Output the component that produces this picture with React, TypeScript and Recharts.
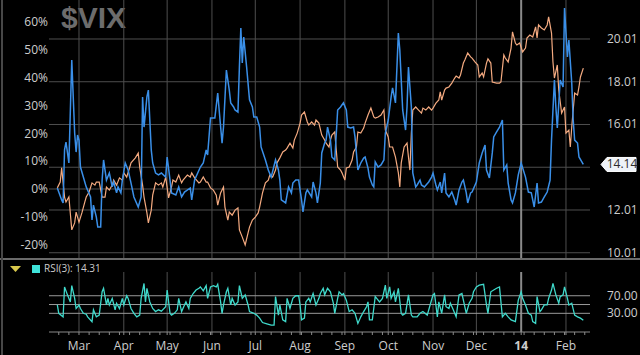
import React from "react";
import { ComposedChart, LineChart, Line, XAxis, YAxis, ReferenceLine } from "recharts";

// x values are calendar days counted from 1 Mar 2013
const monthStarts = [0, 31, 61, 92, 122, 153, 184, 214, 245, 275, 306, 337];
const monthLabels = ["Mar", "Apr", "May", "Jun", "Jul", "Aug", "Sep", "Oct", "Nov", "Dec", "14", "Feb"];
const weekTicks = Array.from({ length: 53 }, (_, i) => -14 + 7 * i);

const pctTicks = [-20, -10, 0, 10, 20, 30, 40, 50, 60];
const vixTicks = [10.01, 12.01, 14.01, 16.01, 18.01, 20.01, 22.01];
const rsiTicks = [30, 70];
const rsiLevels = [30, 50, 70];
const lastVix = 14.14;
const lastRsi = 14.31;

const vixDays = [
  -15, -12, -11, -10, -9, -7, -5, -3, -2, -1, 0, 1, 3, 5, 8, 9, 10, 12, 13, 15, 16, 17, 19, 21, 23, 24, 26, 27, 29, 30,
  32, 34, 36, 38, 41, 43, 44, 45, 47, 48, 50, 51, 53, 55, 57, 60, 61, 63, 64, 67, 69, 71, 73, 77, 78, 80, 84, 86, 88, 89,
  91, 94, 96, 97, 99, 100, 102, 104, 105, 107, 108, 110, 111, 112, 113, 114, 116, 118, 120, 121, 123, 125, 126, 129, 131,
  133, 136, 138, 139, 140, 143, 145, 147, 148, 150, 152, 154, 155, 157, 158, 161, 162, 164, 165, 167, 168, 170, 171, 172,
  174, 175, 177, 179, 181, 183, 185, 186, 188, 190, 191, 193, 195, 197, 198, 200, 201, 203, 204, 205, 207, 209, 211, 212,
  214, 216, 217, 219, 221, 222, 224, 226, 227, 228, 230, 231, 233, 234, 236, 237, 239, 242, 244, 245, 247, 248, 250, 251,
  253, 254, 256, 258, 260, 261, 263, 265, 266, 268, 269, 271, 272, 275, 277, 279, 281, 282, 284, 286, 287, 289, 291, 293,
  294, 296, 297, 299, 300, 302, 304, 306, 309, 311, 313, 315, 317, 318, 320, 322, 324, 326, 327, 329, 330, 331, 333, 335,
  336, 338, 339, 341, 342, 343, 345, 346, 349,
];
const vixClose = [
  13.04, 12.48, 12.34, 14.82, 15.19, 14.21, 19.03, 15.61, 14.72, 15.52, 15.28, 14.02, 13.55, 13.09, 12.62, 11.54, 12.24,
  11.68, 11.21, 11.21, 13.41, 14.35, 13.41, 13.74, 13.09, 13.32, 12.81, 13.09, 12.81, 13.41, 14.21, 13.88, 13.27, 12.62,
  12.15, 12.62, 17.3, 15.89, 17.3, 17.62, 14.82, 14.21, 13.74, 13.65, 13.74, 13.55, 14.49, 13.41, 12.81, 12.71, 13.09,
  12.62, 12.85, 13.04, 12.48, 13.41, 14.02, 14.21, 14.82, 14.58, 16.31, 16.31, 17.48, 16.69, 15.14, 15.89, 18.56, 17.62,
  17.02, 16.83, 16.69, 16.59, 18.7, 20.52, 18.89, 20.1, 18.7, 17.16, 16.83, 16.36, 16.36, 15.89, 14.96, 14.35, 13.88,
  13.55, 14.35, 13.88, 13.41, 12.48, 12.34, 13.09, 12.81, 13.27, 13.41, 13.41, 12.48, 11.92, 12.81, 12.95, 12.62, 13.32,
  12.81, 12.34, 13.27, 14.68, 15.14, 15.28, 15.89, 15.28, 14.49, 14.35, 16.69, 16.83, 17.02, 16.69, 15.89, 15.85, 15.89,
  15.43, 13.88, 14.21, 14.44, 14.49, 13.97, 13.55, 13.18, 13.09, 14.26, 14.02, 14.12, 14.35, 15.61, 16.22, 17.3, 17.72,
  17.02, 20.29, 19.5, 16.69, 15.75, 16.83, 18.7, 16.83, 13.74, 13.09, 13.18, 13.41, 13.18, 13.09, 13.32, 13.55, 13.74,
  13.18, 12.95, 13.32, 12.81, 13.74, 12.81, 12.62, 12.85, 12.48, 12.24, 12.95, 13.32, 13.41, 12.81, 12.34, 12.81, 12.85,
  13.32, 14.21, 14.68, 15.05, 13.88, 13.51, 14.68, 15.43, 15.66, 15.89, 16.22, 13.88, 14.12, 13.27, 12.48, 12.34, 12.81,
  13.65, 14.21, 13.55, 12.85, 12.81, 12.15, 13.27, 12.34, 12.38, 12.62, 12.85, 13.41, 15.28, 18.09, 16.83, 15.85, 18.09,
  17.76, 21.46, 19.17, 19.96, 17.95, 16.22, 15.28, 15.14, 14.49, 14.14,
];

const pctDays = [
  -15, -13, -12, -10, -9, -7, -5, -3, -2, 0, 2, 4, 5, 7, 9, 11, 12, 14, 16, 18, 19, 21, 23, 24, 26, 28, 30, 31, 33, 35, 36,
  39, 41, 42, 44, 45, 47, 48, 50, 51, 53, 55, 57, 58, 60, 62, 64, 65, 67, 69, 71, 72, 75, 77, 78, 80, 83, 84, 86, 88, 89,
  91, 93, 95, 96, 98, 100, 101, 103, 104, 106, 108, 110, 111, 113, 115, 117, 118, 120, 122, 124, 125, 127, 129, 131, 132,
  134, 136, 137, 139, 141, 143, 144, 146, 148, 149, 151, 153, 154, 156, 158, 159, 161, 163, 164, 166, 168, 170, 171, 173,
  174, 175, 177, 179, 181, 182, 184, 185, 187, 189, 190, 192, 193, 195, 197, 198, 200, 202, 204, 205, 207, 209, 211, 212,
  214, 215, 217, 219, 221, 222, 223, 225, 227, 228, 229, 230, 231, 233, 235, 237, 238, 240, 242, 244, 245, 247, 249, 250,
  251, 253, 254, 256, 258, 260, 261, 263, 264, 266, 267, 269, 271, 272, 274, 276, 277, 279, 280, 282, 283, 285, 286, 289,
  291, 292, 294, 295, 297, 299, 300, 302, 303, 305, 307, 309, 310, 312, 314, 316, 317, 318, 320, 322, 324, 325, 327, 328,
  329, 331, 332, 334, 336, 337, 339, 340, 341, 342, 343, 345, 346, 347, 349,
];
const pctChange = [
  0.4, 2.5, 7.6, -2.9, -4.7, -2.9, -14.7, -12.2, -8.3, -11.9, -8.6, -4.7, -2.9, -1.1, 2.2, 1.4, 2.5, 2.5, -2.9, -2.9, 0.7,
  -0.4, 1.4, 3.2, 1.4, 4.0, 3.2, 5.8, 4.3, 7.6, 9.4, 11.2, 12.9, 7.9, 1.4, -2.9, -8.6, -12.2, -7.6, -2.2, 2.2, 1.4, 2.2,
  0.7, 4.3, -3.2, 0.7, 3.2, 2.5, 5.0, 2.2, 3.2, 5.0, 4.3, 5.8, 4.0, 2.2, 2.5, 4.3, 2.5, 2.5, 0.4, -0.4, -2.2, -5.8, -1.4,
  0.7, -6.5, -11.2, -8.3, -9.4, -7.6, -6.8, -14.7, -17.3, -20.1, -15.8, -13.7, -11.2, -10.1, -8.6, -6.5, -1.4, 2.2, 3.2,
  5.0, 4.3, 6.8, 9.4, 11.2, 13.3, 14.0, 14.7, 16.5, 14.7, 17.6, 20.1, 23.7, 26.6, 27.7, 24.1, 23.0, 24.1, 23.0, 24.8, 23.7,
  19.4, 17.6, 16.5, 15.1, 17.6, 19.4, 20.5, 7.9, 6.8, 5.8, 3.2, 7.6, 7.9, 10.4, 13.3, 15.1, 20.5, 20.1, 21.9, 23.7, 26.6,
  29.1, 25.9, 25.5, 25.9, 26.6, 28.4, 21.2, 18.7, 15.1, 15.1, 11.5, 5.8, 0.7, 9.4, 15.1, 16.5, 11.5, 6.8, 20.1, 28.4,
  29.5, 28.4, 27.3, 29.1, 28.4, 29.5, 28.4, 29.1, 30.9, 32.0, 34.9, 32.0, 35.6, 36.3, 36.7, 38.1, 39.9, 40.6, 39.9, 41.0,
  45.3, 46.4, 48.9, 47.5, 47.1, 45.7, 44.6, 40.3, 41.7, 40.3, 45.3, 46.8, 45.3, 38.5, 38.1, 38.1, 38.5, 48.2, 47.1, 45.7,
  50.7, 56.5, 52.5, 51.8, 52.5, 49.3, 50.7, 54.3, 55.4, 54.7, 58.3, 54.3, 59.0, 57.9, 57.2, 59.0, 61.9, 56.1, 45.7, 39.9,
  44.6, 35.6, 27.3, 29.5, 20.1, 21.2, 15.1, 22.3, 28.4, 34.5, 33.8, 36.7, 40.3, 43.5,
];

const rsiDays = [
  -15, -14, -11, -10, -8, -6, -5, -3, -2, 0, 1, 3, 5, 6, 9, 10, 12, 14, 16, 17, 19, 20, 21, 23, 25, 26, 28, 30, 31, 33, 34,
  36, 38, 40, 42, 43, 45, 46, 47, 49, 51, 53, 55, 57, 60, 61, 63, 64, 66, 68, 69, 71, 73, 74, 76, 77, 79, 81, 83, 84, 86,
  88, 89, 91, 93, 95, 96, 98, 99, 100, 102, 103, 105, 106, 108, 110, 111, 113, 115, 117, 118, 121, 123, 125, 127, 130,
  133, 135, 136, 138, 139, 141, 143, 144, 146, 148, 150, 152, 153, 154, 156, 157, 159, 160, 162, 164, 166, 167, 169, 170,
  172, 174, 176, 177, 179, 180, 182, 183, 185, 187, 189, 191, 193, 195, 197, 199, 200, 201, 203, 205, 206, 208, 210, 212,
  213, 215, 216, 218, 219, 221, 223, 224, 226, 228, 230, 231, 234, 236, 238, 241, 243, 245, 246, 248, 249, 251, 253, 254,
  256, 257, 259, 261, 263, 265, 266, 268, 270, 272, 273, 275, 277, 280, 282, 283, 285, 287, 289, 291, 293, 295, 297, 299,
  302, 304, 306, 307, 309, 311, 313, 314, 316, 317, 319, 320, 322, 324, 325, 327, 328, 330, 332, 333, 335, 336, 338, 339,
  341, 343, 345, 347, 349,
];
const rsiValues = [
  49, 30, 22, 90, 72, 56, 93, 64, 41, 49, 41, 30, 28, 22, 11, 38, 22, 26, 79, 87, 49, 64, 49, 64, 38, 53, 41, 64, 49, 70,
  64, 41, 30, 22, 26, 64, 98, 56, 87, 56, 41, 34, 38, 35, 45, 83, 30, 26, 30, 38, 64, 34, 49, 56, 41, 64, 75, 83, 87, 90,
  81, 93, 64, 90, 93, 90, 96, 56, 30, 49, 79, 87, 49, 64, 49, 56, 93, 64, 72, 49, 34, 30, 26, 19, 9, 6, 3, 3, 68, 26, 49,
  15, 11, 64, 41, 64, 70, 70, 49, 15, 19, 56, 64, 56, 75, 49, 64, 75, 87, 72, 87, 79, 53, 30, 64, 79, 72, 75, 60, 34, 38,
  30, 7, 22, 34, 45, 56, 15, 15, 68, 64, 56, 64, 94, 64, 90, 64, 79, 56, 87, 30, 26, 30, 72, 26, 22, 22, 30, 34, 26, 49,
  72, 75, 22, 56, 30, 72, 45, 41, 53, 38, 22, 72, 75, 60, 30, 53, 64, 79, 90, 94, 96, 49, 30, 79, 83, 87, 90, 22, 30, 22,
  15, 11, 60, 79, 64, 49, 30, 26, 11, 7, 68, 34, 38, 49, 49, 64, 83, 98, 72, 53, 68, 72, 90, 64, 49, 53, 26, 22, 19, 14.31,
];

const vixData = vixDays.map((d, i) => ({ d, v: vixClose[i] }));
const pctData = pctDays.map((d, i) => ({ d, p: pctChange[i] }));
const rsiData = rsiDays.map((d, i) => ({ d, r: rsiValues[i] }));
const axisTicks = Array.from(new Set([...weekTicks, ...monthStarts])).sort((a, b) => a - b);

const X_DOMAIN: [number, number] = [-20.76, 353.63];
const FONT = "'Open Sans', 'Liberation Sans', sans-serif";
const TEXT = "#cdcdcd";
const GRID = "#4e4e4e";
const YEAR_LINE = "#8a8a8a";

function VixTick({ x, y, payload }: any) {
  if (payload.value === 14.01) return null;
  return (
    <text x={x} y={y} dy={4} fill={TEXT} fontSize={12} fontFamily={FONT} textAnchor="start">
      {payload.value.toFixed(2)}
    </text>
  );
}

function RsiTick({ x, y, payload }: any) {
  return (
    <text x={x} y={y} dy={4} fill={TEXT} fontSize={12} fontFamily={FONT} textAnchor="start">
      {payload.value.toFixed(2)}
    </text>
  );
}

function MonthTick({ x, y, payload }: any) {
  const idx = monthStarts.indexOf(payload.value);
  if (idx < 0) return null;
  const label = monthLabels[idx];
  return (
    <text
      x={x}
      y={y + 13}
      fill={TEXT}
      fontSize={12}
      fontFamily={FONT}
      fontWeight={label === "14" ? 700 : 400}
      textAnchor="middle"
    >
      {label}
    </text>
  );
}

function PriceTag({ viewBox }: any) {
  if (!viewBox) return null;
  const x0 = viewBox.x + viewBox.width + 11;
  const y0 = viewBox.y;
  const path = `M${x0},${y0} L${x0 + 6},${y0 - 7} L${x0 + 35},${y0 - 7} L${x0 + 35},${y0 + 7} L${x0 + 6},${y0 + 7} Z`;
  return (
    <g>
      <path d={path} fill="#eef2f8" stroke="#ffffff" strokeWidth={1} />
      <text x={x0 + 21} y={y0 + 4} fill="#2b2b2b" fontSize={12} fontFamily={FONT} textAnchor="middle">
        {lastVix.toFixed(2)}
      </text>
    </g>
  );
}

export default function App() {
  return (
    <div
      style={{
        position: "fixed",
        left: 0,
        top: 0,
        width: 640,
        height: 355,
        background: "#000",
        overflow: "hidden",
        fontFamily: FONT,
      }}
    >
      {/* watermark */}
      <div
        style={{
          position: "absolute",
          left: 61,
          top: 0,
          fontSize: 30,
          fontWeight: 700,
          color: "#6c6c6c",
          fontFamily: "'Liberation Sans', Arial, sans-serif",
          lineHeight: "36px",
        }}
      >
        $VIX
      </div>

      <div style={{ position: "absolute", left: 0, top: -5 }}>
        <ComposedChart width={640} height={267} margin={{ top: 0, right: 0, bottom: 4, left: 0 }}>
          <XAxis dataKey="d" type="number" domain={X_DOMAIN} allowDataOverflow hide />
          <YAxis
            yAxisId="pct"
            orientation="left"
            width={49}
            domain={[-24.82, 69.78]}
            ticks={pctTicks}
            interval={0}
            allowDataOverflow
            tickFormatter={(v: number) => `${v}%`}
            tick={{ fill: TEXT, fontSize: 12, fontFamily: FONT }}
            axisLine={false}
            tickLine={false}
            tickSize={0}
            tickMargin={1}
          />
          <YAxis
            yAxisId="vix"
            orientation="right"
            width={50}
            domain={[9.764, 22.068]}
            ticks={vixTicks}
            interval={0}
            allowDataOverflow
            tick={<VixTick />}
            axisLine={false}
            tickLine={false}
            tickSize={0}
            tickMargin={17}
          />
          {vixTicks.map((t) => (
            <ReferenceLine key={`h${t}`} yAxisId="vix" y={t} stroke={GRID} strokeWidth={1} />
          ))}
          <ReferenceLine yAxisId="pct" y={0} stroke={GRID} strokeWidth={1} />
          {monthStarts.map((m, i) => (
            <ReferenceLine
              key={`v${m}`}
              yAxisId="vix"
              x={m}
              stroke={monthLabels[i] === "14" ? YEAR_LINE : GRID}
              strokeWidth={monthLabels[i] === "14" ? 2 : 1}
            />
          ))}
          <Line
            yAxisId="pct"
            data={pctData}
            dataKey="p"
            type="linear"
            stroke="#f4aa80"
            strokeWidth={1.2}
            dot={false}
            isAnimationActive={false}
          />
          <Line
            yAxisId="vix"
            data={vixData}
            dataKey="v"
            type="linear"
            stroke="#3a8fe8"
            strokeWidth={1.5}
            dot={false}
            isAnimationActive={false}
          />
          <ReferenceLine yAxisId="vix" y={lastVix} stroke="none" label={<PriceTag />} />
        </ComposedChart>
      </div>

      {/* panel separator and left frame */}
      <div style={{ position: "absolute", left: 0, top: 258, width: 640, height: 2, background: "#6a6a6a" }} />
      <div style={{ position: "absolute", left: 1, top: 0, width: 2, height: 355, background: "#474747" }} />

      {/* RSI header */}
      <svg style={{ position: "absolute", left: 0, top: 260 }} width={200} height={14}>
        <path d="M10,6 L21,6 L15.5,12 Z" fill="#d9c84c" />
        <rect x={32} y={5} width={8} height={8} fill="#3fe3da" />
        <text x={44} y={12} fill={TEXT} fontSize={10} fontFamily={FONT}>
          {`RSI(3): ${lastRsi.toFixed(2)}`}
        </text>
      </svg>

      <div style={{ position: "absolute", left: 0, top: 259 }}>
        <LineChart width={640} height={96} margin={{ top: 13, right: 0, bottom: 0, left: 49 }}>
          <XAxis
            dataKey="d"
            type="number"
            domain={X_DOMAIN}
            allowDataOverflow
            ticks={axisTicks}
            interval={0}
            height={23}
            axisLine={{ stroke: "#8a8a8a" }}
            tickLine={{ stroke: "#8a8a8a" }}
            tickSize={3}
            tick={<MonthTick />}
          />
          <YAxis
            yAxisId="rsi"
            orientation="right"
            width={50}
            domain={[-12.5, 124]}
            ticks={rsiTicks}
            interval={0}
            allowDataOverflow
            tick={<RsiTick />}
            axisLine={false}
            tickLine={false}
            tickSize={0}
            tickMargin={17}
          />
          {monthStarts.map((m, i) => (
            <ReferenceLine
              key={`rv${m}`}
              yAxisId="rsi"
              x={m}
              stroke={monthLabels[i] === "14" ? YEAR_LINE : GRID}
              strokeWidth={monthLabels[i] === "14" ? 2 : 1}
            />
          ))}
          {rsiLevels.map((l) => (
            <ReferenceLine key={`rl${l}`} yAxisId="rsi" y={l} stroke="#9a9a9a" strokeWidth={1} />
          ))}
          <Line
            yAxisId="rsi"
            data={rsiData}
            dataKey="r"
            type="linear"
            stroke="#3fd9cb"
            strokeWidth={1.3}
            dot={false}
            isAnimationActive={false}
          />
        </LineChart>
      </div>
    </div>
  );
}
